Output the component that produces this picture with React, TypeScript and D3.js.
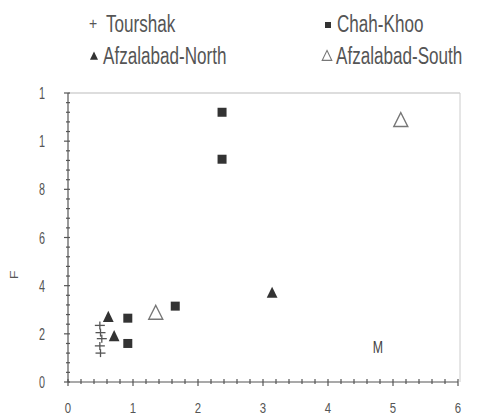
import * as d3 from 'd3'

// series (x, F)
const tourshakX = [0.49, 0.5, 0.52, 0.49, 0.5]
const tourshakY = [2.35, 2.05, 1.8, 1.5, 1.2]
const chahKhooX = [2.37, 2.37, 1.65, 0.92, 0.92]
const chahKhooY = [11.2, 9.25, 3.15, 2.65, 1.6]
const northX = [0.62, 0.71, 3.14]
const northY = [2.65, 1.85, 3.65]
const southX = [1.35, 5.12]
const southY = [2.8, 10.8]

const xTicks = [0, 1, 2, 3, 4, 5, 6]
const yTicks = [0, 2, 4, 6, 8, 10, 12]
const yTickLabels = ['0', '2', '4', '6', '8', '1', '1']

const W = 479
const H = 420
const FONT = '"Liberation Sans", Arial, sans-serif'

// the scan is stretched vertically, so text is drawn tall and narrow
function Tall({ x, y, sx = 0.95, sy = 1.35, anchor = 'start', size, fill = '#555', children }: any) {
  return (
    <text transform={`translate(${x},${y}) scale(${sx},${sy})`} textAnchor={anchor} fontSize={size} fill={fill}>
      {children}
    </text>
  )
}

export default function App() {
  const x = d3.scaleLinear().domain([0, 6]).range([68, 458])
  const y = d3.scaleLinear().domain([0, 12]).range([382, 93])

  const xMinor = d3.range(0, 6.001, 0.2)
  const yMinor = d3.range(0, 12.001, 0.4)

  const sq = d3.symbol().type(d3.symbolSquare)
  const tri = d3.symbol().type(d3.symbolTriangle)

  return (
    <svg width={W} height={H} style={{ position: 'absolute', left: 0, top: 0, background: '#fff', fontFamily: FONT }}>
      {/* legend */}
      <Tall x={93} y={29} anchor="middle" size={14} sx={1} sy={1.2}>+</Tall>
      <Tall x={106} y={32} size={18}>Tourshak</Tall>
      <path d={sq.size(36)() ?? ''} transform="translate(328,25)" fill="#333" />
      <Tall x={337} y={32} size={18}>Chah-Khoo</Tall>
      <path d={tri.size(28)() ?? ''} transform="translate(94,57) scale(1,1.2)" fill="#333" />
      <Tall x={103} y={64} size={18}>Afzalabad-North</Tall>
      <path d={tri.size(40)() ?? ''} transform="translate(327,57) scale(1,1.2)" fill="none" stroke="#777" strokeWidth={1} />
      <Tall x={336} y={64} size={18}>Afzalabad-South</Tall>

      {/* frame */}
      <line x1={x(0)} x2={x(6) + 2} y1={y(12)} y2={y(12)} stroke="#bbb" strokeWidth={1} />
      <line x1={x(6) + 2} x2={x(6) + 2} y1={y(12)} y2={y(0)} stroke="#ccc" strokeWidth={1} />

      {/* axes */}
      <g stroke="#555" strokeWidth={1.2}>
        <line x1={x(0)} x2={x(6)} y1={y(0)} y2={y(0)} />
        <line x1={x(0)} x2={x(0)} y1={y(0)} y2={y(12)} />
        {xMinor.map((v, i) => (
          <line key={'xm' + i} x1={x(v)} x2={x(v)} y1={y(0) - 3} y2={y(0) + (i % 5 === 0 ? 4 : 2)} />
        ))}
        {yMinor.map((v, i) => (
          <line key={'ym' + i} x1={x(0) - (i % 5 === 0 ? 4 : 2)} x2={x(0) + 2} y1={y(v)} y2={y(v)} />
        ))}
      </g>
      {xTicks.map((t) => (
        <Tall key={'xt' + t} x={x(t)} y={413} anchor="middle" size={12} sx={0.95} sy={1.25}>{t}</Tall>
      ))}
      {yTicks.map((t, i) => (
        <Tall key={'yt' + t} x={42} y={y(t) + 6} anchor="middle" size={12} sx={0.9}>{yTickLabels[i]}</Tall>
      ))}
      <text transform="translate(18,275) rotate(-90) scale(1.3,1)" textAnchor="middle" fontSize={11} fill="#555">F</text>

      {/* Tourshak crosses */}
      <g stroke="#555" strokeWidth={1.3}>
        {tourshakX.map((v, i) => (
          <g key={'t' + i} transform={`translate(${x(v)},${y(tourshakY[i])})`}>
            <line x1={-5} x2={5} y1={0} y2={0} />
            <line x1={0} x2={0} y1={-4} y2={4} />
          </g>
        ))}
      </g>

      {/* Chah-Khoo squares */}
      {chahKhooX.map((v, i) => (
        <path key={'c' + i} d={sq.size(81)() ?? ''} transform={`translate(${x(v)},${y(chahKhooY[i])})`} fill="#333" />
      ))}

      {/* Afzalabad-North */}
      {northX.map((v, i) => (
        <path key={'n' + i} d={tri.size(50)() ?? ''} transform={`translate(${x(v)},${y(northY[i])}) scale(1,1.2)`} fill="#333" />
      ))}

      {/* Afzalabad-South */}
      {southX.map((v, i) => (
        <path key={'s' + i} d={tri.size(85)() ?? ''} transform={`translate(${x(v)},${y(southY[i])}) scale(1,1.15)`} fill="none" stroke="#777" strokeWidth={1.3} />
      ))}

      <Tall x={378} y={353} anchor="middle" size={13} sx={0.95} sy={1.3} fill="#444">M</Tall>
    </svg>
  )
}
